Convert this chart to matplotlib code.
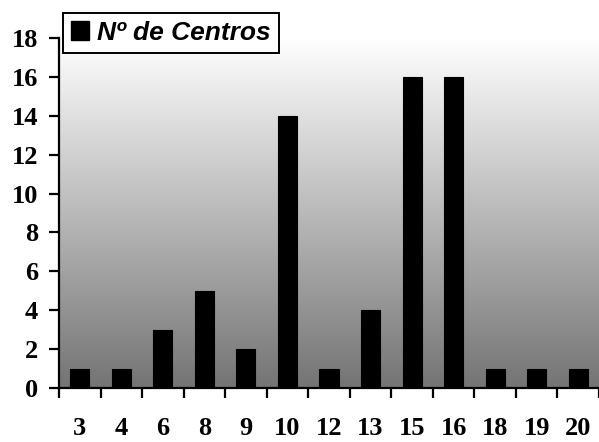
import numpy as np
import matplotlib
matplotlib.use("Agg")
import matplotlib.pyplot as plt
from matplotlib.patches import Patch

categories = ["3", "4", "6", "8", "9", "10", "12", "13", "15", "16", "18", "19", "20"]
centros = [1, 1, 3, 5, 2, 14, 1, 4, 16, 16, 1, 1, 1]
y_ticks = [0, 2, 4, 6, 8, 10, 12, 14, 16, 18]
series_label = "Nº de Centros"

fig = plt.figure(figsize=(5.99, 4.42), dpi=100)
ax = fig.add_axes([59 / 599, 1 - 388 / 442, 540 / 599, 350 / 442])

n = len(categories)
x = np.arange(n)

# vertical grey gradient behind the bars: white at the top, dark grey below
grad = np.linspace(0, 1, 256).reshape(-1, 1)
top, bottom = 255 / 255, 116 / 255
shade = top + (bottom - top) * grad
img = np.dstack([shade, shade, shade])
ax.imshow(img, extent=[-0.5, n - 0.5, 0, 18], origin="upper", aspect="auto",
          zorder=0, interpolation="bilinear")

ax.bar(x, centros, width=0.46, color="black", edgecolor="black",
       linewidth=0.8, zorder=2)

ax.set_xlim(-0.5, n - 0.5)
ax.set_ylim(0, 18)

for s in ["top", "right"]:
    ax.spines[s].set_visible(False)
for s in ["left", "bottom"]:
    ax.spines[s].set_linewidth(1.6)
    ax.spines[s].set_zorder(3)

tick_font = dict(family="Liberation Serif", fontweight="bold", fontsize=19)

ax.set_yticks(y_ticks)
ax.set_yticklabels([str(v) for v in y_ticks], **tick_font)
ax.tick_params(axis="y", direction="out", length=7, width=1.6, pad=8)

# category labels centred under bars, tick marks between categories
ax.set_xticks(np.arange(-0.5, n, 1.0))
ax.set_xticklabels([])
ax.tick_params(axis="x", direction="out", length=7.5, width=1.6)
for xi, lab in zip(x, categories):
    ax.text(xi, -1.5, lab, ha="center", va="top", clip_on=False, **tick_font)

handle = Patch(facecolor="black", edgecolor="black")
leg = ax.legend([handle], [series_label], loc="upper left",
                bbox_to_anchor=(4 / 540, 1 + 25 / 350), frameon=True,
                fancybox=False, framealpha=1, edgecolor="black",
                handlelength=0.7, handleheight=0.7, handletextpad=0.3,
                borderpad=0.3, borderaxespad=0,
                prop={"family": "Liberation Sans", "weight": "bold",
                      "style": "italic", "size": 19})
leg.get_frame().set_linewidth(1.4)
leg.set_zorder(5)

fig.savefig("out.png", dpi=100)
